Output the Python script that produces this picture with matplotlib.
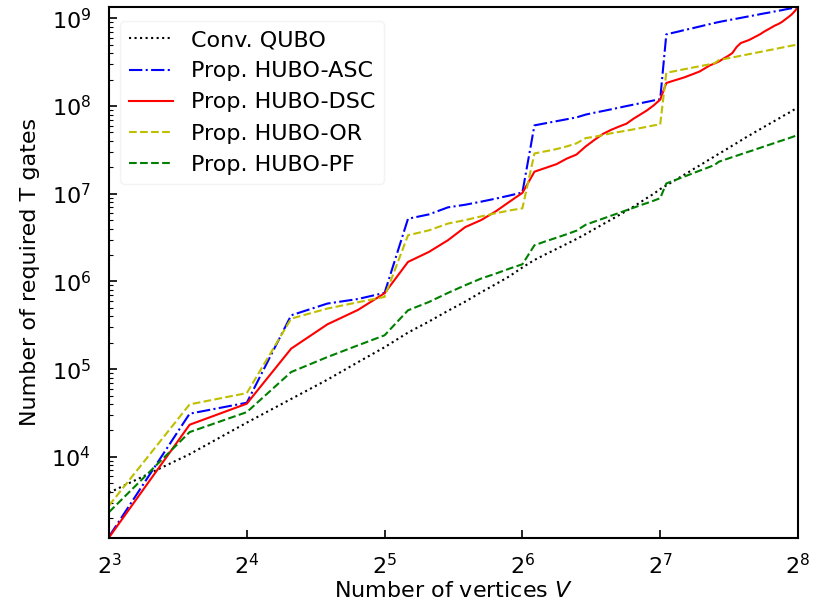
import numpy as np
import matplotlib
matplotlib.use("Agg")
import matplotlib.pyplot as plt

# Number of vertices V (sampled every 4 vertices)
vertices = list(range(8, 257, 4))

# log10 of the number of required T gates
qubo_log10 = [3.59, 4.03, 4.39, 4.66, 4.88, 5.08, 5.25, 5.417, 5.543, 5.665, 5.77, 5.877, 5.97, 6.06, 6.16,
              6.245, 6.311, 6.371, 6.429, 6.484, 6.541, 6.599, 6.653, 6.705, 6.756, 6.805, 6.854, 6.905, 6.955, 7.001, 7.054,
              7.095, 7.135, 7.175, 7.213, 7.250, 7.288, 7.322, 7.357, 7.392, 7.424, 7.457, 7.487, 7.518, 7.549, 7.578, 7.607,
              7.636, 7.663, 7.688, 7.715, 7.739, 7.764, 7.787, 7.811, 7.833, 7.856, 7.878, 7.901, 7.921, 7.943, 7.965, 7.985]

asc_log10 = [3.09, 4.492, 4.617, 5.614, 5.748, 5.80, 5.87, 6.715, 6.765, 6.845, 6.875, 6.91, 6.945, 6.98, 7.015,
             7.78, 7.805, 7.828, 7.85, 7.871, 7.903, 7.925, 7.944, 7.963, 7.982, 8.0, 8.017, 8.033, 8.049, 8.065, 8.08,
             8.818, 8.834, 8.849, 8.865, 8.879, 8.893, 8.907, 8.921, 8.934, 8.947, 8.959, 8.969, 8.979, 8.988, 8.997, 9.006,
             9.015, 9.024, 9.032, 9.040, 9.049, 9.057, 9.064, 9.072, 9.08, 9.087, 9.094, 9.102, 9.109, 9.116, 9.123, 9.13]

dsc_log10 = [3.08, 4.366, 4.606, 5.234, 5.511, 5.676, 5.866, 6.223, 6.337, 6.47, 6.62, 6.70, 6.80, 6.91, 7.01,
             7.252, 7.296, 7.338, 7.401, 7.447, 7.54, 7.615, 7.683, 7.729, 7.766, 7.799, 7.857, 7.906, 7.954, 8.01, 8.074,
             8.263, 8.285, 8.305, 8.325, 8.348, 8.371, 8.394, 8.428, 8.462, 8.485, 8.508, 8.542, 8.571, 8.605, 8.674, 8.719,
             8.736, 8.753, 8.776, 8.799, 8.822, 8.85, 8.873, 8.896, 8.919, 8.936, 8.959, 8.987, 9.016, 9.045, 9.084, 9.13]

or_log10 = [3.445, 4.598, 4.727, 5.576, 5.691, 5.763, 5.824, 6.527, 6.583, 6.66, 6.70, 6.742, 6.778, 6.81, 6.834,
            7.46, 7.485, 7.51, 7.54, 7.575, 7.635, 7.65, 7.67, 7.69, 7.705, 7.72, 7.735, 7.75, 7.765, 7.78, 7.79,
            8.38, 8.393, 8.406, 8.419, 8.431, 8.443, 8.454, 8.465, 8.476, 8.487, 8.525, 8.535, 8.545, 8.555, 8.564, 8.574,
            8.583, 8.592, 8.601, 8.610, 8.618, 8.627, 8.635, 8.643, 8.651, 8.659, 8.667, 8.674, 8.682, 8.689, 8.696, 8.704]

pf_log10 = [3.369, 4.282, 4.51, 4.967, 5.138, 5.272, 5.386, 5.671, 5.766, 5.869, 5.957, 6.033, 6.09, 6.147, 6.196,
            6.413, 6.459, 6.499, 6.539, 6.579, 6.647, 6.683, 6.717, 6.75, 6.781, 6.812, 6.841, 6.87, 6.896, 6.922, 6.95,
            7.118, 7.143, 7.169, 7.193, 7.217, 7.24, 7.263, 7.284, 7.306, 7.326, 7.366, 7.384, 7.401, 7.418, 7.434, 7.45,
            7.466, 7.481, 7.495, 7.511, 7.525, 7.54, 7.554, 7.567, 7.581, 7.595, 7.607, 7.62, 7.632, 7.645, 7.658, 7.669]

labels = ["Conv. QUBO", "Prop. HUBO-ASC", "Prop. HUBO-DSC", "Prop. HUBO-OR", "Prop. HUBO-PF"]

series = [qubo_log10, asc_log10, dsc_log10, or_log10, pf_log10]
styles = [("k", ":"), ("b", "-."), ("r", "-"), ("y", "--"), ("g", "--")]

plt.rcParams["font.family"] = ["DejaVu Sans"]
plt.rcParams["font.size"] = 16

fig = plt.figure(figsize=(8.21, 6.08), dpi=100)
ax = fig.add_axes([109 / 821, (608 - 537.5) / 608, (798 - 109) / 821, (537.5 - 7) / 608])

for vals, (c, ls), lab in zip(series, styles, labels):
    ax.plot(vertices, 10 ** np.array(vals), color=c, linestyle=ls, linewidth=1.5, label=lab)

ax.set_xscale("log", base=2)
ax.set_yscale("log")
ax.set_xlim(8, 256)
ax.set_ylim(10 ** 3.08, 10 ** 9.13)
ax.tick_params(which="both", direction="in")
ax.tick_params(which="major", length=6, width=1.2)
ax.tick_params(which="minor", length=3, width=0.8)
ax.tick_params(axis="x", which="major", pad=11)
ax.tick_params(axis="y", which="major", pad=13)
ax.xaxis.set_minor_locator(matplotlib.ticker.NullLocator())
for s in ax.spines.values():
    s.set_linewidth(1.5)

ax.set_xlabel("Number of vertices $V$", labelpad=2)
ax.set_ylabel("Number of required T gates", labelpad=8)
leg = ax.legend(loc="upper left", labelspacing=0.5, bbox_to_anchor=(0, 0.994))
leg.get_frame().set_edgecolor("#f0f0f0")

fig.savefig("out.png", dpi=100)
